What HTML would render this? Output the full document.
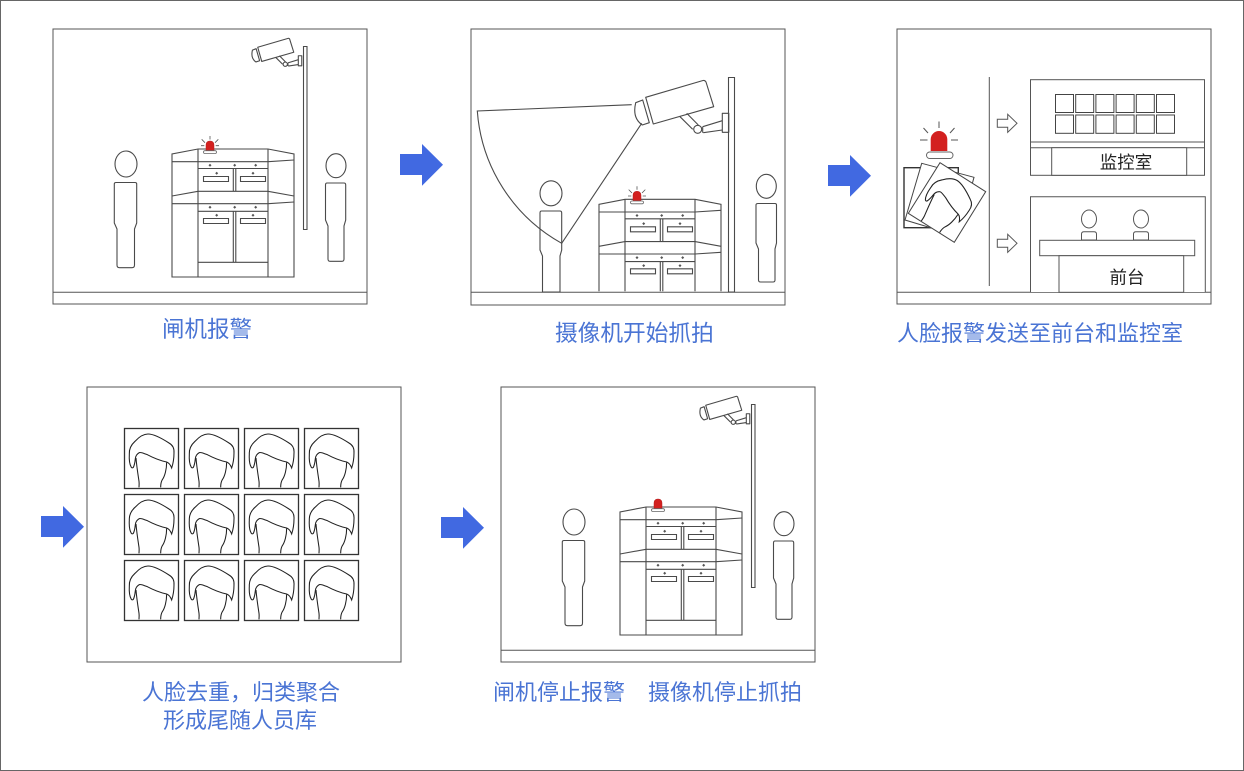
<!DOCTYPE html>
<html><head><meta charset="utf-8"><style>
html,body{margin:0;padding:0;background:#fff}
svg{display:block}
text{font-family:"Liberation Sans","Noto Sans CJK SC",sans-serif}
.c{font-size:22px;fill:#4a74d4}
.l{font-size:17.5px;fill:#222;text-anchor:middle}
.s{fill:none;stroke:#4a4a4a;stroke-width:1.1}
.s *{vector-effect:non-scaling-stroke}
</style></head><body>
<svg width="1244" height="771" viewBox="0 0 1244 771" xmlns="http://www.w3.org/2000/svg">
<defs>
<path id="arrow" d="M400 154H422V144L443 164.7L422 185.7V175H400Z" fill="#4169e1"/>
<g id="d"><path d="M0-1.5L1.5 0L0 1.5L-1.5 0Z" fill="#555" stroke="none"/></g>
<g id="sirenS">
<path d="M34 1.7V-4Q34-8 38-8Q42-8 42-4V1.7Z" fill="#d3201f" stroke="#b02020" stroke-width=".5"/>
<rect x="31.5" y="1.7" width="13" height="2.8" rx="1.4" fill="#fff" stroke="#666" stroke-width=".8"/>
</g>
<g id="gate" class="s">
<path d="M0 92V5L26 0H96L122 5V92"/>
<path d="M26 0V92M96 0V92"/>
<path d="M0 12.7H26L96 12.7L122 11M26 19.5H96"/>
<path d="M0 47L26 42.3H96L122 47M0 54.7H26M26 54.7H96L122 53M26 62.3H96"/>
<path d="M61.3 19.5V42.3M63.8 19.5V42.3M61.3 62.3V92M63.8 62.3V92"/>
<rect x="31.5" y="27.5" width="25" height="5"/><rect x="68.5" y="27.5" width="25" height="5"/>
<rect x="31.5" y="69.5" width="25" height="5"/><rect x="68.5" y="69.5" width="25" height="5"/>
<use href="#d" x="38" y="16.2"/><use href="#d" x="62.7" y="16.2"/><use href="#d" x="83.7" y="16.2"/>
<use href="#d" x="44.7" y="24.3"/><use href="#d" x="81" y="24.3"/>
<use href="#d" x="38" y="58.3"/><use href="#d" x="62.7" y="58.3"/><use href="#d" x="83.7" y="58.3"/>
<use href="#d" x="44.7" y="66.3"/><use href="#d" x="81" y="66.3"/>
</g>
<g id="gateFull">
<use href="#gate"/>
<g class="s"><path d="M0 92V128H122V92M26 92V128M96 92V128M26 113.3H96M61.3 92V113.3M63.8 92V113.3"/></g>
<use href="#sirenS" y="0"/>
</g>
<g id="rays" stroke="#555" stroke-width=".8" fill="none"><path d="M38-13V-9.5M29.7-9.7L33-6.3M46.3-9.7L43-6.3M29-3.3H32.3M43.7-3.3H47"/></g>
<g id="cam" class="s" stroke-linejoin="round">
<path d="M645.7 97.3L703 80.5Q705 80 706 82L713.7 106.7L653.3 124Z" fill="#fff"/>
<path d="M635.7 102.7L642.7 100L649.3 122.7L642.3 125Q632 118 635.7 102.7Z" fill="#fff"/>
<path d="M680 116.7L692.7 129.3M686.7 113.3L698.3 125M702.7 126.7L722.3 120.7M703.3 132.7L722.3 130M702.7 126.7V132.7"/>
<circle cx="697.7" cy="129.3" r="4" fill="#fff"/>
<rect x="722.3" y="113.3" width="6.5" height="19" fill="#fff"/>
</g>
<g id="scene1">
<use href="#gateFull" x="172" y="149"/>
<use href="#cam" transform="translate(-84.5 -4.3) scale(.53)"/>
<g class="s">
<rect x="303.5" y="46.5" width="3.5" height="183"/>
<ellipse cx="126" cy="164" rx="11" ry="13"/>
<path d="M116 182.5H135Q136.7 182.5 136.7 184V223L134.5 229V265Q134.5 267.7 132 267.7H119.5Q117 267.7 117 265V229L114.3 223V184Q114.3 182.5 116 182.5Z"/>
<ellipse cx="336" cy="165.7" rx="10" ry="12"/>
<path d="M327 183H344Q345.7 183 345.7 185V220L344 226V259Q344 261.3 342 261.3H330Q328 261.3 328 259V226L325.5 220V185Q325.5 183 327 183Z"/>
</g>
</g>
<g id="face" fill="none" stroke="#222">
<path transform="scale(.3333)" stroke-width="3.2" d="M22 118C17 110 15 95 16 78C15 62 22 50 33 40C45 27 58 18 72 18C90 18 115 32 135 45C148 52 151 62 150 75C150 92 148 105 143 120C140 112 134 104 128 102C105 97 85 88 70 80C58 76 50 72 46 74C38 78 35 84 34 92C33 102 31 112 28 118C26 120 24 120 22 118ZM36 90C38 115 42 140 45 160C46 168 45 173 45 178M128 102C128 125 122 145 115 155C111 162 110 170 110 178"/>
</g>
<g id="tile"><rect x=".5" y=".5" width="54" height="60" fill="#fff" stroke="#333" stroke-width="1.3"/><use href="#face"/></g>
<path id="oa" d="M997.3 119.3H1007.7V114.3L1017 123.3L1007.7 132.3V127.3H997.3Z" fill="#fff" stroke="#555" stroke-width="1"/>
</defs>

<rect x=".5" y=".5" width="1243" height="770" fill="#fff" stroke="#666"/>

<!-- scene 1 -->
<rect x="53" y="29" width="314" height="275" fill="#fff" stroke="#555"/>
<path d="M53 292.3H367" stroke="#555" fill="none"/>
<use href="#scene1"/>
<use href="#rays" x="172" y="149"/>
<text class="c" x="162" y="337" style="font-size:22.5px">闸机报警</text>
<use href="#arrow"/>

<!-- scene 2 -->
<rect x="471" y="29" width="314" height="276" fill="#fff" stroke="#555"/>
<path d="M471 292.3H785" stroke="#555" fill="none"/>
<use href="#gate" x="599" y="199.3"/>
<use href="#sirenS" x="599" y="199.3"/>
<use href="#rays" x="599" y="199.3"/>
<use href="#cam"/>
<g class="s">
<rect x="728.5" y="77.5" width="6" height="214.5"/>
<ellipse cx="551" cy="193.3" rx="11" ry="12.5"/>
<path d="M541.5 211H560Q561.7 211 561.7 213V250L560 256V292H542.5V256L540 250V213Q540 211 541.5 211Z"/>
<ellipse cx="766.3" cy="186.3" rx="10" ry="12"/>
<path d="M758 203.5H775Q776.5 203.5 776.5 205V243L775 249V280Q775 282 773 282H760.5Q758.5 282 758.5 280V249L756 243V205Q756 203.5 758 203.5Z"/>
<path d="M631.7 104.7L477.3 111A165 165 0 0 0 561.7 243.3L641.7 123.3"/>
</g>
<text class="c" x="555" y="341" style="font-size:22.7px">摄像机开始抓拍</text>
<use href="#arrow" x="428" y="11"/>

<!-- scene 3 -->
<rect x="897" y="29" width="314" height="275" fill="#fff" stroke="#555"/>
<path d="M897 292.3H1211M989.3 77V286" stroke="#555" fill="none"/>
<use href="#oa"/><use href="#oa" y="120"/>
<g fill="#fff" stroke="#555">
<rect x="1030.5" y="79.7" width="174" height="95.6"/>
<path d="M1030.5 142H1204.5M1030.5 147.7H1204.5" fill="none"/>
<rect x="1051.7" y="147.7" width="135" height="27.6"/>
</g>
<g fill="none" stroke="#444">
<rect x="1055.5" y="94.5" width="18" height="18"/><rect x="1075.7" y="94.5" width="18" height="18"/><rect x="1095.9" y="94.5" width="18" height="18"/><rect x="1116.1" y="94.5" width="18" height="18"/><rect x="1136.3" y="94.5" width="18" height="18"/><rect x="1156.5" y="94.5" width="18" height="18"/>
<rect x="1055.5" y="115" width="18" height="18.3"/><rect x="1075.7" y="115" width="18" height="18.3"/><rect x="1095.9" y="115" width="18" height="18.3"/><rect x="1116.1" y="115" width="18" height="18.3"/><rect x="1136.3" y="115" width="18" height="18.3"/><rect x="1156.5" y="115" width="18" height="18.3"/>
</g>
<text class="l" x="1126" y="168.5">监控室</text>
<g fill="#fff" stroke="#555">
<path d="M1030.5 292V196.7H1205.3V292" />
<rect x="1039.7" y="240.3" width="155" height="15.4"/>
<rect x="1059" y="255.7" width="124.7" height="36.6"/>
<ellipse cx="1089" cy="219" rx="7.5" ry="9"/><ellipse cx="1141" cy="219" rx="7.5" ry="9"/>
<path d="M1081.5 240V234Q1081.5 231.7 1084 231.7H1094Q1096.5 231.7 1096.5 234V240Z"/>
<path d="M1133.5 240V234Q1133.5 231.7 1136 231.7H1146Q1148.5 231.7 1148.5 234V240Z"/>
</g>
<text class="l" x="1127" y="283.5">前台</text>
<!-- alert -->
<g stroke="#555" stroke-width="1" fill="none"><path d="M939 121.5V128M923.5 128L928 133M954.5 128L950 133M920 140H927.5M951 140H958"/></g>
<path d="M930.7 151V139.3A8.3 8.3 0 0 1 947.3 139.3V151Z" fill="#d3201f"/>
<rect x="926.5" y="152" width="26.5" height="6.5" rx="3.2" fill="#fff" stroke="#666"/>
<rect x="904" y="167.7" width="54.3" height="60" fill="#fff" stroke="#333" stroke-width="1.4"/>
<path d="M921.7 163.3L974 177.3L958 236L905 220Z" fill="#fff" stroke="#444"/>
<path d="M940 162.7L985.7 191.7L954.3 242.3L908.3 213.3Z" fill="#fff" stroke="#444"/>
<use href="#face" transform="translate(940 162.7) rotate(32)"/>
<text class="c" x="897" y="341">人脸报警发送至前台和监控室</text>
<use href="#arrow" x="-359" y="362"/>

<!-- scene 4 -->
<rect x="87" y="387" width="314" height="275" fill="#fff" stroke="#555"/>
<use href="#tile" x="124" y="428"/><use href="#tile" x="184" y="428"/><use href="#tile" x="244" y="428"/><use href="#tile" x="304" y="428"/>
<use href="#tile" x="124" y="494"/><use href="#tile" x="184" y="494"/><use href="#tile" x="244" y="494"/><use href="#tile" x="304" y="494"/>
<use href="#tile" x="124" y="560"/><use href="#tile" x="184" y="560"/><use href="#tile" x="244" y="560"/><use href="#tile" x="304" y="560"/>
<text class="c" x="142" y="700">人脸去重&#xFF0C;归类聚合</text>
<text class="c" x="163" y="728">形成尾随人员库</text>
<use href="#arrow" x="41" y="363"/>

<!-- scene 5 -->
<rect x="501" y="387" width="314" height="275" fill="#fff" stroke="#555"/>
<path d="M501 650.3H815" stroke="#555" fill="none"/>
<use href="#scene1" x="448" y="358"/>
<text class="c" x="493" y="700">闸机停止报警</text>
<text class="c" x="648" y="700">摄像机停止抓拍</text>
</svg>
</body></html>
